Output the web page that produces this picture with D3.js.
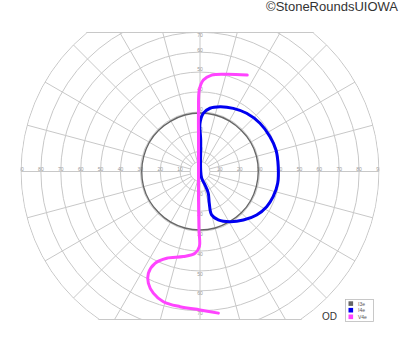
<!DOCTYPE html>
<meta charset="utf-8">
<style>
body { margin: 0; background: #fff; }
svg { display: block; font-family: "Liberation Sans", Arial, sans-serif; }
.grid circle, .grid line { fill: none; stroke: #c8c8c8; stroke-width: 1; }
.ticks text { font-size: 5px; fill: #9a9a9a; text-anchor: middle; }
.isopter { fill: none; stroke-linejoin: round; stroke-linecap: round; }
</style>
<svg width="400" height="352"></svg>
<script src="https://d3js.org/d3.v7.min.js"></script>
<script>
// grid
var rings = [5, 10, 20, 30, 40, 50, 60, 70, 80, 90];
var ringLabels = [10, 20, 30, 40, 50, 60, 70, 80, 90];
var vertLabels = [10, 20, 30, 40, 50, 60, 70];
var meridians = [0, 15, 30, 45, 60, 75, 90, 105, 120, 135, 150, 165,
                 180, 195, 210, 225, 240, 255, 270, 285, 300, 315, 330, 345];

// isopters: [meridian (deg, 0 = right, counter-clockwise), eccentricity (deg)]
var isopterNames = ["I3e", "I4e", "V4e"];
var isopterColors = ["#666666", "#0000f0", "#ff44ff"];

var i3e = [[0, 29.3], [15, 29.4], [30, 29.4], [45, 29.3], [60, 29.4], [75, 29.4],
           [90, 29.4], [105, 29.4], [120, 29.3], [135, 29.4], [150, 29.4], [165, 29.3],
           [180, 29.3], [195, 29.4], [210, 29.4], [225, 29.3], [240, 29.4], [255, 29.4],
           [270, 29.4], [285, 29.4], [300, 29.3], [315, 29.4], [330, 29.4], [345, 29.3]];

var i4e = [[88.7, 15.8], [90, 24.2], [86.8, 29.3], [81, 32.2], [72.8, 34.1], [62.2, 35.9],
           [51.3, 37.5], [38.8, 38.7], [26.4, 39.3], [15.8, 39.7], [3.5, 39.4], [351.4, 39.5],
           [341, 38.9], [332.2, 37.9], [322.5, 35.9], [311.8, 32.7], [300.9, 29.4], [290.7, 26],
           [285, 22.6], [286.3, 16.6], [290.8, 11.7], [290.3, 7.2], [284, 3.5], [65, 0.8]];

var v4e = [[63.9, 54], [74.6, 50.7], [83.1, 48.8], [87.9, 46], [90.5, 41], [91.4, 30.9],
           [92.7, 15.8], [97.4, 5.8], [260, 4.3], [267, 14.3], [269, 29.4], [269.5, 37.8],
           [266.5, 41.2], [258.9, 43.6], [249, 46.7], [243.9, 51.4], [243.1, 57.4], [245.2, 61.9],
           [249, 65.5], [254.3, 68], [261.6, 68.7], [270, 69.6], [277.4, 71.8]];

var svg = d3.select("svg"),
    cx = 200, cy = 171.5,
    topY = 32, bottomY = 320;

var r = d3.scaleLinear().domain([0, 90]).range([0, 179]);
var rad = Math.PI / 180;

var defs = svg.append("defs");
defs.append("clipPath").attr("id", "clipRect")
  .append("rect").attr("x", 0).attr("y", topY).attr("width", 400).attr("height", bottomY - topY);
defs.append("clipPath").attr("id", "clipCircle")
  .append("circle").attr("cx", cx).attr("cy", cy).attr("r", r(90) + 0.6);

var outer = svg.append("g").attr("clip-path", "url(#clipRect)");
var chart = outer.append("g").attr("clip-path", "url(#clipCircle)")
  .append("g").attr("transform", "translate(" + cx + "," + cy + ")");

var grid = chart.append("g").attr("class", "grid");

grid.selectAll("line.meridian")
    .data(meridians)
  .enter().append("line")
    .attr("class", "meridian")
    .attr("x1", function(d) { return r(5) * Math.cos(d * rad); })
    .attr("y1", function(d) { return -r(5) * Math.sin(d * rad); })
    .attr("x2", function(d) { return r(90) * Math.cos(d * rad); })
    .attr("y2", function(d) { return -r(90) * Math.sin(d * rad); });

grid.selectAll("circle")
    .data(rings)
  .enter().append("circle")
    .attr("r", function(d) { return r(d); });

// top and bottom border of the chart
grid.append("line")
    .attr("x1", -200).attr("x2", 200)
    .attr("y1", topY - cy + 0.5).attr("y2", topY - cy + 0.5);
grid.append("line")
    .attr("x1", -200).attr("x2", 200)
    .attr("y1", bottomY - cy - 0.5).attr("y2", bottomY - cy - 0.5);

var ticks = chart.append("g").attr("class", "ticks");

ticks.selectAll("text.left")
    .data(ringLabels)
  .enter().append("text")
    .attr("x", function(d) { return -r(d); })
    .attr("y", -0.6)
    .text(function(d) { return d; });
ticks.selectAll("text.right")
    .data(ringLabels)
  .enter().append("text")
    .attr("x", function(d) { return r(d); })
    .attr("y", -0.6)
    .text(function(d) { return d; });
ticks.selectAll("text.up")
    .data(vertLabels)
  .enter().append("text")
    .attr("x", 0)
    .attr("y", function(d) { return Math.max(-r(d) - 0.6, topY - cy + 5); })
    .text(function(d) { return d; });
ticks.selectAll("text.down")
    .data(vertLabels)
  .enter().append("text")
    .attr("x", 0)
    .attr("y", function(d) { return r(d) + 4.6; })
    .text(function(d) { return d; });

function radialLine(closed) {
  return d3.lineRadial()
      .angle(function(d) { return (90 - d[0]) * rad; })
      .radius(function(d) { return r(d[1]); })
      .curve(closed ? d3.curveCatmullRomClosed.alpha(0.5) : d3.curveCatmullRom.alpha(0.5));
}

chart.append("path")
    .attr("class", "isopter")
    .attr("d", radialLine(true)(i3e))
    .attr("stroke", isopterColors[0])
    .attr("stroke-width", 1.4);

chart.append("path")
    .attr("class", "isopter")
    .attr("d", radialLine(true)(i4e))
    .attr("stroke", isopterColors[1])
    .attr("stroke-width", 3);

chart.append("path")
    .attr("class", "isopter")
    .attr("d", radialLine(false)(v4e))
    .attr("stroke", isopterColors[2])
    .attr("stroke-width", 3);

// legend
var legend = svg.append("g").attr("transform", "translate(345.5,299.5)");
legend.append("rect")
    .attr("width", 28).attr("height", 22)
    .attr("fill", "#fff").attr("stroke", "#bbb").attr("stroke-width", 0.8);
var item = legend.selectAll("g.item")
    .data(isopterNames)
  .enter().append("g")
    .attr("transform", function(d, i) { return "translate(3," + (1.8 + i * 6.6) + ")"; });
item.append("rect")
    .attr("width", 4.6).attr("height", 4.6)
    .attr("fill", function(d, i) { return isopterColors[i]; });
item.append("text")
    .attr("x", 9.5).attr("y", 4.2)
    .attr("font-size", 5).attr("fill", "#555")
    .text(function(d) { return d; });

svg.append("text")
    .attr("x", 322).attr("y", 320)
    .attr("font-size", 10).attr("fill", "#333")
    .text("OD");

svg.append("text")
    .attr("x", 398).attr("y", 11.3)
    .attr("text-anchor", "end")
    .attr("font-size", 13).attr("fill", "#333")
    .text("\u00a9StoneRoundsUIOWA");
</script>
